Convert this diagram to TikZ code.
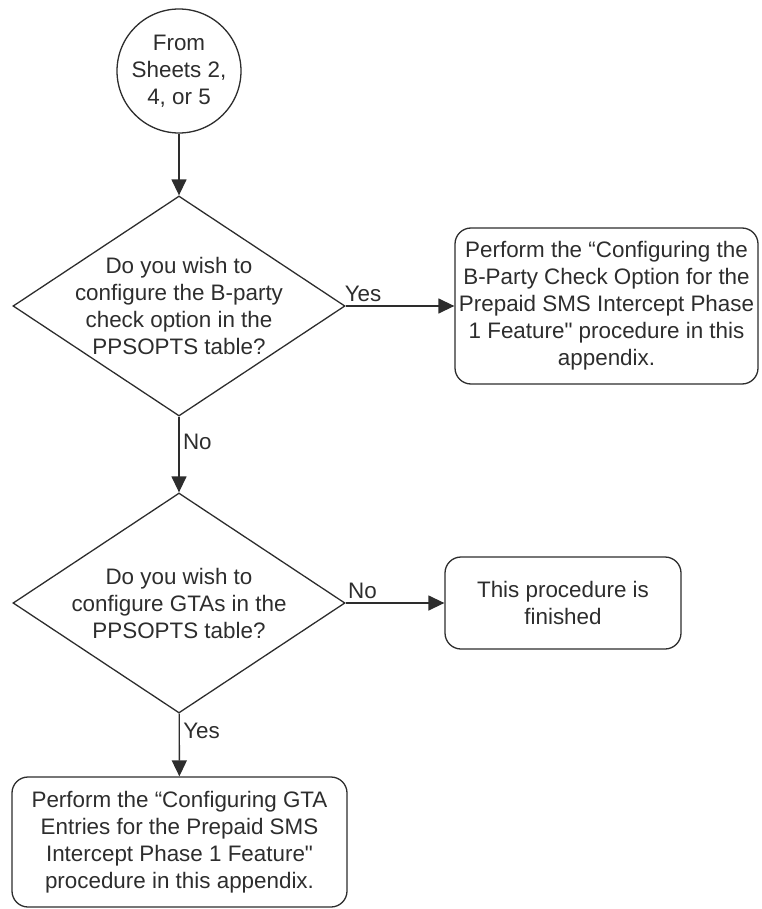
\documentclass[tikz,border=0pt]{standalone}
\usepackage{fontspec}
\setmainfont{Liberation Sans}
\definecolor{flowgray}{RGB}{45,45,45}
\usetikzlibrary{arrows.meta,positioning,shapes.geometric}

\begin{document}
\begin{tikzpicture}[x=1pt,y=-1pt,
  every node/.style={font=\fontsize{22.4}{27}\selectfont, text=flowgray},
  flow/.style={-{Triangle[length=16pt,width=15pt]}, line width=1.4pt, draw=flowgray},
  decision/.style={diamond, draw=flowgray, line width=1.3pt, minimum width=332pt, minimum height=220pt, inner sep=0pt},
  procbox/.style={rectangle, rounded corners=16pt, draw=flowgray, line width=1.3pt, align=center, inner sep=2pt},
  offpage/.style={circle, draw=flowgray, line width=1.3pt, minimum size=124pt, inner sep=0pt, align=center}]
  \useasboundingbox (0,0) rectangle (761,909);

  % Off-page connector
  \node[offpage] (start) at (179,71) {From\\Sheets 2,\\4, or 5};

  % B-party question
  \node[decision] (bparty) at (179,306) {};
  \node[align=center] (bpartytxt) at (bparty) {Do you wish to\\configure the B-party\\check option in the\\PPSOPTS table?};
  \node[procbox, minimum width=303pt, minimum height=156pt] (bpartybox) at (606.5,306)
    {Perform the “Configuring the\\B-Party Check Option for the\\Prepaid SMS Intercept Phase\\1 Feature\textquotedbl{} procedure in this\\appendix.};

  % GTA question
  \node[decision] (gta) at (179,603) {};
  \node[align=center] (gtatxt) at (gta) {Do you wish to\\configure GTAs in the\\PPSOPTS table?};
  \node[procbox, minimum width=236pt, minimum height=92pt] (finished) at (563,603)
    {This procedure is\\finished};
  \node[procbox, minimum width=335pt, minimum height=130pt] (gtabox) at (179.5,842)
    {Perform the “Configuring GTA\\Entries for the Prepaid SMS\\Intercept Phase 1 Feature\textquotedbl\\procedure in this appendix.};

  % Connectors
  \draw[flow] (start) -- (bparty);
  \draw[flow] (bparty.east) -- node[above, pos=0.16] (yes1) {Yes} (bpartybox.west);
  \draw[flow] (bparty) -- node[right, pos=0.33] (no1) {No} (gta);
  \draw[flow] (gta.east) -- node[above, pos=0.17] (no2) {No} (finished.west);
  \draw[flow] (gta) -- node[right, pos=0.27] (yes2) {Yes} (gtabox);
\end{tikzpicture}
\end{document}
